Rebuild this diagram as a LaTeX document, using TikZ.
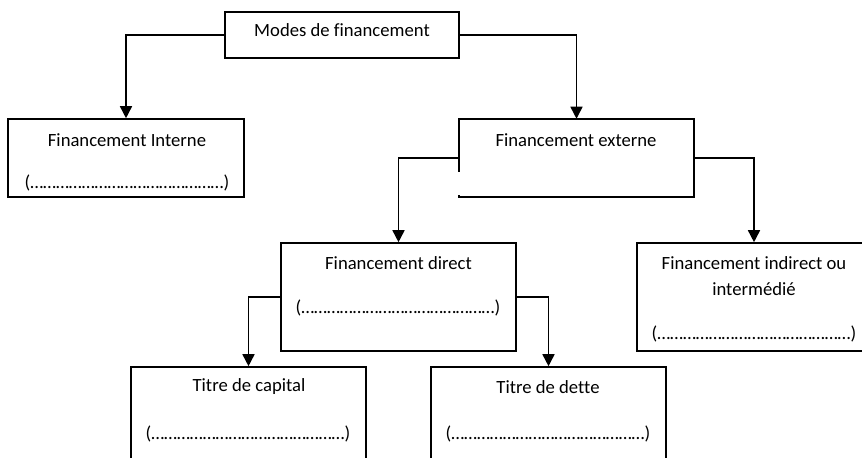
\documentclass[tikz,border=0pt]{standalone}
\usepackage{fontspec}
\setmainfont{Carlito}[Ligatures=NoCommon]
\usetikzlibrary{arrows.meta}
\newcommand{\dotsline}{(………………………………………)}
\tikzset{
  box/.style={draw, line width=1.2pt, inner sep=0pt, rectangle},
  nobox/.style={inner sep=0pt, rectangle},
  txt/.style={inner sep=0pt, font=\fontsize{14pt}{16pt}\selectfont, anchor=center},
  conn/.style={line width=1.2pt, -{Triangle[length=9pt,width=9pt]}},
}
\begin{document}
\begin{tikzpicture}[x=0.75pt,y=-0.75pt]
\useasboundingbox (0,0) rectangle (862,457);
\clip (0,0) rectangle (862,457);
\fill[white] (0,0) rectangle (862,457);
% boxes
\node[box, minimum width=234*0.75pt, minimum height=46*0.75pt] (modes) at (342,35) {};
\node[box, minimum width=236*0.75pt, minimum height=78*0.75pt] (int) at (126,158) {};
\node[nobox, minimum width=235*0.75pt, minimum height=78*0.75pt] (ext) at (576.5,158) {};
\node[box, minimum width=235*0.75pt, minimum height=108*0.75pt] (dir) at (398.5,297) {};
\node[box, minimum width=234*0.75pt, minimum height=108*0.75pt] (ind) at (754,297) {};
\node[box, minimum width=235*0.75pt, minimum height=110*0.75pt] (cap) at (248.5,422) {};
\node[box, minimum width=235*0.75pt, minimum height=110*0.75pt] (det) at (548.5,422) {};
% external box outline with gap on left edge
\draw[line width=1.2pt] ([yshift=-39.75pt]ext.north west) -- (ext.north west) -- (ext.north east) -- (ext.south east) -- (ext.south west) -- ([yshift=1.5pt]ext.south west);
% texts
\node[txt] (tmodes) at (342,30.5) {Modes de financement};
\node[txt] (tint) at (127,140) {Financement Interne};
\node[txt] (dint) at (127,183) {\dotsline};
\node[txt] (text) at (576,140) {Financement externe};
\node[txt] (tdir) at (398.5,263.5) {Financement direct};
\node[txt] (ddir) at (398,307.5) {\dotsline};
\node[txt] (tind1) at (754,263.5) {Financement indirect ou};
\node[txt] (tind2) at (754,289.5) {intermédié};
\node[txt] (dind) at (754,334) {\dotsline};
\node[txt] (tcap) at (249,387) {Titre de capital};
\node[txt] (dcap) at (248,434) {\dotsline};
\node[txt] (tdet) at (548,387) {Titre de dette};
\node[txt] (ddet) at (548,434) {\dotsline};
% connectors
\draw[conn] (modes.west) -| (int.north);
\draw[conn] (modes.east) -| (ext.north);
\draw[conn] (ext.west) -| (dir.north);
\draw[conn] (ext.east) -| (ind.north);
\draw[conn] (dir.west) -| (cap.north);
\draw[conn] (dir.east) -| (det.north);
\end{tikzpicture}
\end{document}
